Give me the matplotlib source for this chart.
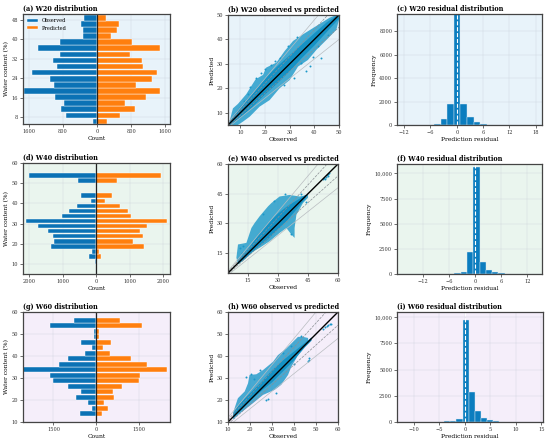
import numpy as np
import matplotlib
matplotlib.use("Agg")
import matplotlib.pyplot as plt
from matplotlib.ticker import FuncFormatter

plt.rcParams['font.family'] = ['DejaVu Serif']

# ---------------- data ----------------
# water-content distributions (bin centres, counts)
w20_bins = [6.25, 8.75, 11.25, 13.75, 16.25, 18.75, 21.25, 23.75, 26.25,
            28.75, 31.25, 33.75, 36.25, 38.75, 41.25, 43.75, 46.25, 48.75]
w20_obs = [85, 730, 847, 761, 986, 1700, 1002, 1095, 1515,
           932, 1033, 862, 1375, 854, 334, 326, 380, 311]
w20_pred = [225, 551, 885, 668, 1142, 1468, 909, 1289, 1414,
            1080, 1049, 769, 1483, 831, 318, 474, 513, 202]

w40_bins = [11.25, 13.75, 16.25, 18.75, 21.25, 23.75, 26.25, 28.75, 31.25,
            33.75, 36.25, 38.75, 41.25, 43.75, 46.25, 48.75, 51.25, 53.75]
w40_obs = [40, 210, 110, 1360, 1260, 1290, 1440, 1740, 2090,
           1030, 820, 570, 160, 440, 0, 0, 530, 2010]
w40_pred = [10, 150, 90, 1440, 1100, 1390, 1310, 1510, 2110,
            1030, 950, 710, 260, 460, 0, 0, 610, 1940]

w60_bins = [13.75, 16.25, 18.75, 21.25, 23.75, 26.25, 28.75, 31.25, 33.75,
            36.25, 38.75, 41.25, 43.75, 46.25, 48.75, 51.25, 53.75, 56.25]
w60_obs = [570, 163, 291, 698, 535, 977, 1500, 1616, 2600,
           1302, 1000, 395, 151, 547, 70, 81, 1616, 779]
w60_pred = [198, 407, 279, 616, 593, 895, 1488, 1512, 2453,
            1756, 1198, 488, 221, 500, 105, 81, 1605, 826]

# observed vs predicted: outline of the point cloud (upper edge, lower edge)
w20_up_x = [5.5, 7, 9, 12.4, 14.5, 16.2, 19.2, 20.5, 24.6, 28, 31.4, 35.4, 40.8, 46.2, 48.9, 50]
w20_up_y = [6, 11.8, 13.6, 17.6, 21, 23.7, 25.5, 28.5, 30.5, 35.3, 39.4, 42.1, 45.5, 48.9, 50, 50]
w20_lo_x = [50, 48.9, 44.9, 40.8, 37.4, 33.4, 30, 25.9, 21.9, 17.8, 13.8, 11.1, 9, 5.5]
w20_lo_y = [48, 43.9, 39.8, 35.7, 31.6, 28.9, 23.4, 20, 15.2, 12.5, 8.4, 6.4, 5, 5]
w20_core_up_x = [6, 10, 15, 20, 25, 30, 35, 40, 45, 49.5]
w20_core_up_y = [7, 12.5, 18, 24, 29, 33.5, 38, 42.5, 47, 50]
w20_core_lo_x = [50, 45, 40, 35, 30, 25, 20, 15, 10, 6]
w20_core_lo_y = [48.5, 43, 37.5, 32.5, 27, 22, 17.5, 12.5, 8, 5]
w20_out_x = [42.8, 36.5, 38.2, 14.0, 16.3, 45.5, 22.5, 18.5, 20.2, 26.0, 29.5, 33.0,
             11.5, 13.2, 24.0, 31.8, 39.5, 41.5, 34.5, 27.5]
w20_out_y = [32.3, 27.0, 29.0, 20.5, 24.2, 42.0, 29.6, 26.3, 27.8, 32.5, 37.5, 40.8,
             15.0, 17.8, 31.2, 24.2, 33.0, 37.3, 30.5, 21.4]

w40_up_x = [9.2, 10, 14.2, 16.7, 18.3, 20.8, 25, 26.7, 30.8, 35.8, 40.8, 45]
w40_up_y = [12.7, 19.4, 20.2, 27.7, 30.2, 33.6, 38.6, 40.3, 43.6, 44.4, 43.6, 44.4]
w40_lo_x = [45, 42.5, 39.2, 38.3, 38.3, 36.7, 34.2, 30.8, 25.8, 20.8, 16.7, 13.3, 10]
w40_lo_y = [43, 40.3, 34.4, 27.7, 22.7, 24.4, 27.7, 25.2, 21, 17.7, 15.2, 11.8, 9.3]
w40_core_up_x = [10, 15, 20, 25, 30, 35, 40, 44]
w40_core_up_y = [11, 17, 24, 30, 35, 39, 42, 44.5]
w40_core_lo_x = [44, 40, 35, 30, 25, 20, 15, 10]
w40_core_lo_y = [43, 38, 32, 27, 22, 18, 13.5, 9.5]
w40_out_x = [52.5, 53.2, 53.8, 54.4, 55.0, 55.6, 53.5, 54.8, 11.0, 12.5, 13.8, 11.8,
             22.5, 28.0, 33.5, 41.5, 44.0, 36.5]
w40_out_y = [52.2, 53.0, 53.6, 54.2, 54.8, 55.3, 52.6, 54.0, 17.5, 18.8, 16.2, 15.0,
             34.8, 41.5, 45.0, 44.8, 41.0, 24.5]

w60_up_x = [12.3, 13, 14.5, 17.6, 19.1, 19.8, 22.9, 25.9, 30.5, 32.7, 36.5, 41.8, 44.1, 46.4]
w60_up_y = [14.1, 16.3, 20.8, 23.9, 27.6, 31.4, 31.7, 33.6, 37.4, 40.4, 43.4, 48.7, 48.7, 48.2]
w60_lo_x = [46.4, 44.8, 42.6, 41, 38.8, 37.3, 34.2, 31.2, 25.9, 21.4, 17.6, 13.8, 12.3]
w60_lo_y = [46.4, 44.9, 42.7, 38.9, 35.2, 31.4, 26.9, 24.6, 22.3, 18.6, 15.6, 12.6, 11.1]
w60_core_up_x = [12.5, 15, 20, 25, 30, 35, 40, 45, 48]
w60_core_up_y = [14, 18, 23, 28, 33.5, 38, 42, 46, 48.5]
w60_core_lo_x = [48, 45, 40, 35, 30, 25, 20, 15, 12.5]
w60_core_lo_y = [47, 44, 38, 33, 28, 24, 19.5, 14.5, 12]
w60_out_x = [46.2, 46.6, 47.0, 32.0, 28.2, 27.4, 53.2, 54.0, 54.8, 55.6, 56.3, 57.0,
             18.2, 20.5, 21.8, 24.5, 35.0, 38.5, 43.0, 40.2]
w60_out_y = [37.6, 38.4, 38.9, 23.1, 20.5, 20.1, 52.5, 53.0, 53.5, 54.0, 54.4, 54.7,
             30.5, 32.0, 29.5, 33.8, 41.5, 44.6, 49.2, 36.5]

# residual histograms (bin left edges, bin width, counts)
w20_res_left = [-6.65, -5.15, -3.65, -2.15, -0.65, 0.85, 2.35, 3.85, 5.35, 6.85]
w20_res_cnt = [30, 110, 515, 1830, 9450, 1830, 690, 290, 110, 30]
w20_res_w = 1.5
w40_res_left = [-4.75, -3.3, -1.85, -0.4, 1.05, 2.5, 3.95, 5.4, 6.85]
w40_res_cnt = [50, 190, 2150, 10660, 1160, 365, 165, 90, 30]
w40_res_w = 1.45
w60_res_left = [-5.25, -4.05, -2.85, -1.65, -0.45, 0.75, 1.95, 3.15, 4.35, 5.55, 6.75]
w60_res_cnt = [20, 60, 130, 290, 9760, 2900, 1010, 380, 160, 80, 20]
w60_res_w = 1.2

# ---------------- styling ----------------
OBS = '#0b72b5'
PRED = '#ff7f0e'
SCAT = '#1b98c9'
HIST = '#0b7dbf'
BG = ['#e8f3fa', '#eaf5ee', '#f5eefa']
TS, LS, KS = 4.7, 4.3, 3.6

fig = plt.figure(figsize=(5.5, 4.42), dpi=100)


def box(x0, y0, x1, y1):
    return [x0 / 550, 1 - y1 / 442, (x1 - x0) / 550, (y1 - y0) / 442]


def style(ax, bg, title):
    ax.set_facecolor(bg)
    for s in ax.spines.values():
        s.set_color('#444444')
        s.set_linewidth(0.9)
    ax.tick_params(labelsize=KS, length=2, width=0.5, pad=1.5, colors='#333333')
    ax.grid(True, color='#c8d0d8', linewidth=0.35, alpha=0.7)
    ax.set_axisbelow(True)
    ax.set_title(title, loc='left', fontsize=TS, fontweight='bold', pad=2.5)


def pyramid(rect, bins, obs, pred, bg, title, xlim, xticks, ylim, yticks, legend=False):
    ax = fig.add_axes(rect)
    style(ax, bg, title)
    ax.barh(bins, [-v for v in obs], height=2.3, color=OBS, edgecolor='white',
            linewidth=0.3, label='Observed')
    ax.barh(bins, pred, height=2.3, color=PRED, edgecolor='white',
            linewidth=0.3, label='Predicted')
    ax.axvline(0, color='#222222', linewidth=0.9)
    ax.set_xlim(xlim)
    ax.set_ylim(ylim)
    ax.set_xticks(xticks)
    ax.set_yticks(yticks)
    ax.xaxis.set_major_formatter(FuncFormatter(lambda v, p: f'{abs(v):.0f}'))
    ax.set_xlabel('Count', fontsize=LS, labelpad=1.5)
    ax.set_ylabel('Water content (%)', fontsize=LS, labelpad=1.5)
    if legend:
        ax.legend(loc='upper left', fontsize=KS, frameon=False,
                  handlelength=2.2, handleheight=0.6, borderaxespad=0.4)
    return ax


def scatter(rect, lim, ticks, up_x, up_y, lo_x, lo_y, cu_x, cu_y, cl_x, cl_y,
            out_x, out_y, bg, title):
    ax = fig.add_axes(rect)
    style(ax, bg, title)
    ax.fill(up_x + lo_x, up_y + lo_y, color=SCAT, alpha=0.8, linewidth=0)
    ax.fill(cu_x + cl_x, cu_y + cl_y, color='#1591c4', alpha=1.0, linewidth=0)
    ax.scatter(out_x, out_y, s=2, color=SCAT, linewidths=0)
    ln = np.array(lim)
    for k in (0.2, -0.2):
        ax.plot(ln, ln * (1 + k), color='#b8bcc0', linewidth=0.5)
    for k in (0.1, -0.1):
        ax.plot(ln, ln * (1 + k), color='#8a8f94', linewidth=0.5, linestyle='--')
    ax.plot(ln, ln, color='black', linewidth=1.0)
    ax.set_xlim(lim)
    ax.set_ylim(lim)
    ax.set_xticks(ticks)
    ax.set_yticks(ticks)
    ax.set_xlabel('Observed', fontsize=LS, labelpad=1.5)
    ax.set_ylabel('Predicted', fontsize=LS, labelpad=1.5)
    return ax


def resid(rect, left, cnt, w, bg, title, xlim, xticks, ylim, yticks):
    ax = fig.add_axes(rect)
    style(ax, bg, title)
    ax.bar(left, cnt, width=w, align='edge', color=HIST, edgecolor='#dce9f2', linewidth=0.3)
    ax.axvline(0, color='white', linewidth=0.8, linestyle='--')
    ax.set_xlim(xlim)
    ax.set_ylim(ylim)
    ax.set_xticks(xticks)
    ax.set_yticks(yticks)
    ax.yaxis.set_major_formatter(FuncFormatter(
        lambda v, p: f'{v:,.0f}' if v >= 10000 else f'{v:.0f}'))
    ax.set_xlabel('Prediction residual', fontsize=LS, labelpad=1.5)
    ax.set_ylabel('Frequency', fontsize=LS, labelpad=1.5)
    return ax


# row 1: W20
pyramid(box(23, 14, 170, 124), w20_bins, w20_obs, w20_pred, BG[0], '(a) W20 distribution',
        (-1730, 1710), [-1600, -800, 0, 800, 1600], (5.2, 50.3), [8, 16, 24, 32, 40, 48],
        legend=True)
scatter(box(228, 15, 339, 125), (5, 50), [10, 20, 30, 40, 50],
        w20_up_x, w20_up_y, w20_lo_x, w20_lo_y,
        w20_core_up_x, w20_core_up_y, w20_core_lo_x, w20_core_lo_y,
        w20_out_x, w20_out_y, BG[0], '(b) W20 observed vs predicted')
resid(box(397, 14, 542, 125), w20_res_left, w20_res_cnt, w20_res_w, BG[0],
      '(c) W20 residual distribution', (-13.6, 19.4), [-12, -6, 0, 6, 12, 18],
      (0, 9450), [0, 2000, 4000, 6000, 8000])

# row 2: W40
pyramid(box(23, 163, 170, 274), w40_bins, w40_obs, w40_pred, BG[1], '(d) W40 distribution',
        (-2190, 2210), [-2000, -1000, 0, 1000, 2000], (5, 60), [10, 20, 30, 40, 50, 60])
scatter(box(228, 164, 338, 273), (5, 60), [15, 30, 45, 60],
        w40_up_x, w40_up_y, w40_lo_x, w40_lo_y,
        w40_core_up_x, w40_core_up_y, w40_core_lo_x, w40_core_lo_y,
        w40_out_x, w40_out_y, BG[1], '(e) W40 observed vs predicted')
resid(box(397, 164, 542, 274), w40_res_left, w40_res_cnt, w40_res_w, BG[1],
      '(f) W40 residual distribution', (-17.9, 15.4), [-12, -6, 0, 6, 12],
      (0, 10930), [0, 2500, 5000, 7500, 10000])

# row 3: W60
pyramid(box(23, 312, 170, 422), w60_bins, w60_obs, w60_pred, BG[2], '(g) W60 distribution',
        (-2560, 2570), [-1500, 0, 1500], (10, 60), [10, 20, 30, 40, 50, 60])
scatter(box(228, 312, 338, 422), (10, 60), [10, 20, 30, 40, 50, 60],
        w60_up_x, w60_up_y, w60_lo_x, w60_lo_y,
        w60_core_up_x, w60_core_up_y, w60_core_lo_x, w60_core_lo_y,
        w60_out_x, w60_out_y, BG[2], '(h) W60 observed vs predicted')
resid(box(397, 312, 543, 422), w60_res_left, w60_res_cnt, w60_res_w, BG[2],
      '(i) W60 residual distribution', (-13.3, 15.3), [-10, -5, 0, 5, 10, 15],
      (0, 10490), [0, 2500, 5000, 7500, 10000])

fig.savefig('out.png', dpi=100, facecolor='white')
